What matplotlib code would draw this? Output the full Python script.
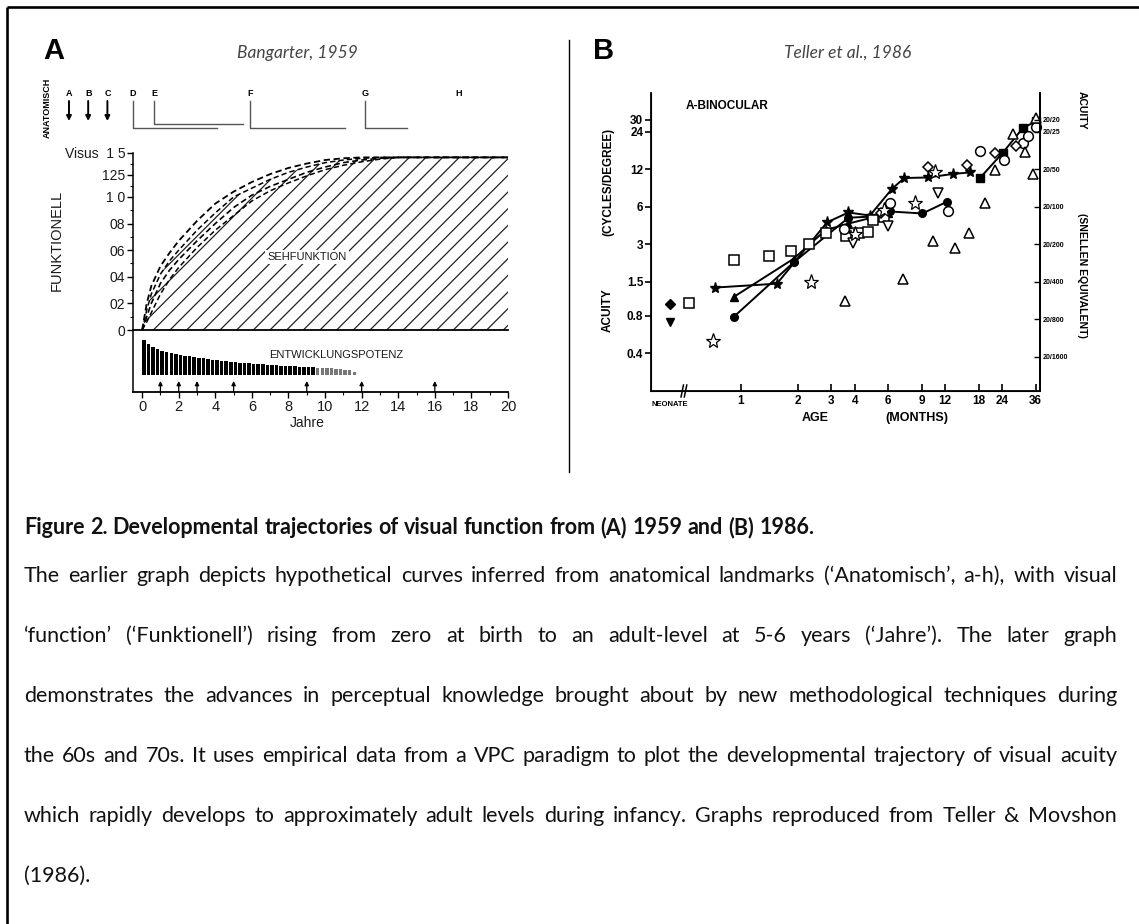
import numpy as np
import matplotlib
matplotlib.use("Agg")
import matplotlib.pyplot as plt
from matplotlib.transforms import blended_transform_factory

plt.rcParams['hatch.linewidth'] = 0.9

W, H = 1139, 924

# ---------------- panel A data (Bangarter, 1959) ----------------
curve_years = [0, 0.25, 0.5, 1, 1.5, 2, 3, 4, 5, 6, 7, 8, 9, 10, 11, 12, 13, 14, 16, 20]
curve_1 = [0, 0.20, 0.33, 0.48, 0.58, 0.67, 0.82, 0.95, 1.06, 1.17, 1.26, 1.33, 1.38, 1.42, 1.44, 1.45, 1.45, 1.45, 1.45, 1.45]
curve_2 = [0, 0.15, 0.27, 0.42, 0.52, 0.60, 0.75, 0.88, 1.00, 1.10, 1.20, 1.28, 1.34, 1.39, 1.42, 1.44, 1.45, 1.45, 1.45, 1.45]
curve_3 = [0, 0.10, 0.20, 0.35, 0.45, 0.53, 0.67, 0.80, 0.92, 1.02, 1.12, 1.20, 1.28, 1.34, 1.39, 1.42, 1.44, 1.45, 1.45, 1.45]
curve_4 = [0, 0.06, 0.13, 0.27, 0.38, 0.47, 0.62, 0.75, 0.86, 0.97, 1.07, 1.16, 1.24, 1.31, 1.36, 1.40, 1.43, 1.45, 1.45, 1.45]

visus_ticks = [0, 0.2, 0.4, 0.6, 0.8, 1.0, 1.25, 1.5]
visus_labels = ['0', '02', '04', '06', '08', '1 0', '125', 'Visus  1 5']

potenz_years = np.arange(0, 11.75, 0.25)
potenz = [35, 31, 28.5, 26, 24, 23, 22, 21, 20, 19.3, 18.6, 18, 17.3, 16.7, 16.1, 15.5,
          14.9, 14.4, 13.9, 13.4, 13, 12.5, 12.1, 11.7, 11.3, 11, 10.6, 10.3, 10, 9.7,
          9.5, 9.2, 9, 8.7, 8.5, 8.3, 8, 7.8, 7.5, 7.2, 7, 6.6, 6.2, 5.8, 5.3, 4.6, 3.5]
arrow_years = [1, 2, 3, 5, 9, 12, 16]

landmarks = ['A', 'B', 'C', 'D', 'E', 'F', 'G', 'H']
landmark_years = [-4.0, -2.95, -1.9, -0.5, 0.65, 5.9, 12.2, 17.3]
landmark_ends = [None, None, None, 4.1, 5.5, 11.1, 14.5, None]

# ---------------- panel B data (Teller et al., 1986) ----------------
star_line_x = [0.73, 1.55, 2.85, 3.7, 4.8, 6.3, 7.3, 9.7, 13.2, 16.2]
star_line_y = [1.35, 1.45, 4.5, 5.4, 5.1, 8.4, 10.2, 10.3, 11.0, 11.3]
circ_line_x = [0.92, 1.9, 3.7, 4.8, 6.1, 9.1, 12.3]
circ_line_y = [0.79, 2.15, 4.9, 5.0, 5.5, 5.3, 6.6]
tri_line_x = [0.92, 1.9, 2.8, 3.7, 6.0]
tri_line_y = [1.14, 2.3, 3.9, 4.4, 5.3]
sq_line_x = [18.3, 24.2, 30.8, 36]
sq_line_y = [10.2, 16.3, 25.6, 29]

neo_x = 0.42
neo_diamond = 1.0
neo_tri = 0.72

open_sq_x = [0.53, 0.92, 1.4, 1.84, 2.3, 2.8, 3.6, 4.2, 4.7, 5.0, 5.7]
open_sq_y = [1.02, 2.25, 2.4, 2.65, 3.0, 3.7, 3.5, 3.7, 3.8, 4.7, 5.0]
open_star_x = [0.71, 2.35, 4.0, 5.7, 8.3, 10.6]
open_star_y = [0.5, 1.5, 3.6, 5.6, 6.4, 11.3]
open_circ_x = [3.5, 6.1, 12.4, 18.3, 24.6, 31, 33, 36]
open_circ_y = [4.0, 6.4, 5.5, 16.7, 14.1, 19.4, 22, 26]
open_dia_x = [5.5, 9.7, 15.6, 22, 28.5]
open_dia_y = [5.3, 12.5, 12.9, 16.3, 18.4]
open_up_x = [3.55, 7.2, 10.3, 13.5, 16, 19.5, 22, 27.3, 31.8, 36, 35]
open_up_y = [1.06, 1.59, 3.2, 2.8, 3.7, 6.4, 11.8, 22.9, 16.6, 31, 11]
open_dn_x = [3.9, 6.0, 11]
open_dn_y = [3.1, 4.2, 7.8]

age_ticks = [1, 2, 3, 4, 6, 9, 12, 18, 24, 36]
cpd_ticks = [0.4, 0.8, 1.5, 3, 6, 12, 24, 30]
cpd_labels = ['0.4', '0.8', '1.5', '3', '6', '12', '24', '30']
snellen_ticks = [30, 24, 12, 6, 3, 1.5, 0.75, 0.375]
snellen_labels = ['20/20', '20/25', '20/50', '20/100', '20/200', '20/400', '20/800', '20/1600']

caption_title = "Figure 2. Developmental trajectories of visual function from (A) 1959 and (B) 1986."
caption_lines = [
    "The earlier graph depicts hypothetical curves inferred from anatomical landmarks (\u2018Anatomisch\u2019, a-h), with visual",
    "\u2018function\u2019 (\u2018Funktionell\u2019) rising from zero at birth to an adult-level at 5-6 years (\u2018Jahre\u2019). The later graph",
    "demonstrates the advances in perceptual knowledge brought about by new methodological techniques during",
    "the 60s and 70s. It uses empirical data from a VPC paradigm to plot the developmental trajectory of visual acuity",
    "which rapidly develops to approximately adult levels during infancy. Graphs reproduced from Teller & Movshon",
    "(1986).",
]

# ---------------------------------------------------------------
fig = plt.figure(figsize=(W / 100, H / 100), dpi=100)
fig.patch.set_facecolor('white')


def px_axes(x0, y0, x1, y1, **kw):
    return fig.add_axes([x0 / W, 1 - y1 / H, (x1 - x0) / W, (y1 - y0) / H], **kw)


ov = px_axes(0, 0, W, H)
ov.set_xlim(0, W)
ov.set_ylim(H, 0)
ov.axis('off')

sans = ['Liberation Sans', 'DejaVu Sans']
cap_font = ['Lato', 'Open Sans', 'DejaVu Sans']
ink = '#1a1a1a'

# frame + divider
ov.plot([7, W], [7, 7], color='k', lw=1.9, solid_capstyle='butt')
ov.plot([7, 7], [7, H], color='k', lw=1.9, solid_capstyle='butt')
ov.plot([569, 569], [40, 472], color='k', lw=1.0)

ov.text(43, 51, 'A', fontsize=21, fontweight='bold', family=sans, va='center')
ov.text(593, 51, 'B', fontsize=21, fontweight='bold', family=sans, va='center')
ov.text(297, 53, 'Bangarter, 1959', fontsize=12.5, style='italic', family=cap_font,
        color='#444444', ha='center', va='center')
ov.text(848, 53, 'Teller et al., 1986', fontsize=12.5, style='italic', family=cap_font,
        color='#444444', ha='center', va='center')

# ---------------- panel A ----------------
def fwd(v):
    v = np.asarray(v, dtype=float)
    return np.where(v <= 1, v, 1 + (v - 1) * 0.66)


def inv(u):
    u = np.asarray(u, dtype=float)
    return np.where(u <= 1, u, 1 + (u - 1) / 0.66)


ax_a = px_axes(133, 153, 508, 330)
ax_a.set_yscale('function', functions=(fwd, inv))
ax_a.set_xlim(-0.5, 20)
ax_a.set_ylim(0, 1.5)
for s in ['top', 'right']:
    ax_a.spines[s].set_visible(False)
ax_a.spines['left'].set_linewidth(1.1)
ax_a.spines['bottom'].set_linewidth(1.3)
ax_a.set_xticks([])
ax_a.set_yticks(visus_ticks, visus_labels)
ax_a.set_yticks([0.1, 0.3, 0.5, 0.7, 0.9, 1.125, 1.375], minor=True)
ax_a.tick_params(axis='y', which='major', length=4, width=1, pad=1.5, labelsize=10, labelcolor=ink)
ax_a.tick_params(axis='y', which='minor', length=2.5, width=0.8)
for lab in ax_a.get_yticklabels():
    lab.set_family(sans)
ax_a.patch.set_alpha(0)

ax_a.fill_between(curve_years, 0, curve_2, facecolor='none', edgecolor='#222222',
                  hatch='//', linewidth=0)
for c, lw in zip([curve_1, curve_2, curve_3, curve_4], [1.3, 1.1, 1.2, 1.1]):
    ax_a.plot(curve_years, c, color='k', lw=lw, ls=(0, (3.5, 2)), clip_on=False)
ax_a.text(9.0, 0.55, 'SEHFUNKTION', fontsize=8, family=sans, ha='center', va='center',
          color=ink, bbox=dict(facecolor='white', edgecolor='none', pad=1.5))
ov.text(57, 240, 'FUNKTIONELL', rotation=90, fontsize=10.5, family=sans, color=ink,
        ha='center', va='center')

# lower strip (Entwicklungspotenz)
ax_s = px_axes(133, 330, 508, 392)
ax_s.set_xlim(-0.5, 20)
ax_s.set_ylim(-17, 45)
for s in ['top', 'right']:
    ax_s.spines[s].set_visible(False)
ax_s.spines['left'].set_linewidth(1.1)
ax_s.spines['bottom'].set_linewidth(1.3)
ax_s.set_yticks([])
ax_s.set_xticks(range(0, 21, 2))
ax_s.set_xticks(range(1, 20, 2), minor=True)
ax_s.tick_params(axis='x', which='major', length=4, width=1, labelsize=10.5, labelcolor=ink, pad=2)
ax_s.tick_params(axis='x', which='minor', length=2.5, width=0.8)
for lab in ax_s.get_xticklabels():
    lab.set_family(sans)
ax_s.patch.set_alpha(0)
cols = ['k' if yr < 9.5 else '#777777' for yr in potenz_years]
ax_s.bar(potenz_years, potenz, width=0.19, color=cols, align='edge')
for yr in arrow_years:
    ax_s.annotate('', xy=(yr, -6), xytext=(yr, -17),
                  arrowprops=dict(arrowstyle='-|>', lw=0.9, color='k', mutation_scale=6,
                                  shrinkA=0, shrinkB=0), annotation_clip=False)
ax_s.text(10.6, 20, 'ENTWICKLUNGSPOTENZ', fontsize=8, family=sans, ha='center', va='center', color=ink)
ov.text(307, 423, 'Jahre', fontsize=10, family=sans, ha='center', va='center', color=ink)

# anatomical landmarks on top
tr = blended_transform_factory(ax_a.transData, ov.transData)
for name, yr, end in zip(landmarks, landmark_years, landmark_ends):
    ov.text(yr, 94, name, transform=tr, fontsize=6.5, fontweight='bold', family=sans,
            ha='center', va='center')
    if name in 'ABC':
        ov.annotate('', xy=(yr, 121), xytext=(yr, 101), xycoords=tr, textcoords=tr,
                    arrowprops=dict(arrowstyle='-|>', lw=1.4, color='k', mutation_scale=7,
                                    shrinkA=0, shrinkB=0))
    elif end is not None:
        y_base = 124 if name == 'E' else 128
        ov.plot([yr, yr, end], [101, y_base, y_base], transform=tr, color='#555555', lw=1.0)
ov.text(47, 108, 'ANATOMISCH', rotation=90, fontsize=6.5, fontweight='bold', family=sans,
        ha='center', va='center')

# ---------------- panel B ----------------
ax_b = px_axes(651, 93, 1040, 391)
ax_b.set_xscale('log')
ax_b.set_yscale('log')
ax_b.set_xlim(0.335, 38)
ax_b.set_ylim(0.2, 49)
ax_b.spines['top'].set_visible(False)
for s in ['left', 'bottom', 'right']:
    ax_b.spines[s].set_linewidth(1.3)
ax_b.set_xticks(age_ticks, [str(a) for a in age_ticks])
ax_b.set_xticks([], minor=True)
ax_b.set_yticks(cpd_ticks, cpd_labels)
ax_b.set_yticks([], minor=True)
ax_b.tick_params(axis='x', direction='in', length=5, width=1.2, labelsize=8.5, pad=3)
ax_b.tick_params(axis='y', direction='out', length=4, width=1.2, labelsize=8.5, pad=1.5)
for lab in ax_b.get_xticklabels() + ax_b.get_yticklabels():
    lab.set_family(sans)
    lab.set_fontweight('bold')

ax_r = ax_b.twinx()
ax_r.set_yscale('log')
ax_r.set_ylim(0.2, 49)
ax_r.spines['top'].set_visible(False)
ax_r.spines['right'].set_linewidth(1.3)
ax_r.set_yticks(snellen_ticks, snellen_labels)
ax_r.set_yticks([], minor=True)
ax_r.tick_params(axis='y', direction='in', length=4, width=1.0, labelsize=5, pad=2)
for lab in ax_r.get_yticklabels():
    lab.set_family(sans)
    lab.set_fontweight('bold')

lk = dict(color='k', lw=1.4, clip_on=False)
ax_b.plot(star_line_x, star_line_y, marker='*', ms=8, **lk)
ax_b.plot(circ_line_x, circ_line_y, marker='o', ms=5.5, **lk)
ax_b.plot(tri_line_x, tri_line_y, marker='^', ms=5.5, **lk)
ax_b.plot(sq_line_x, sq_line_y, marker='s', ms=5.5, **lk)
ax_b.plot([neo_x], [neo_diamond], marker='D', ms=5, color='k', ls='none')
ax_b.plot([neo_x], [neo_tri], marker='v', ms=5.5, color='k', ls='none')

ok = dict(ls='none', mfc='white', mec='k', mew=1.1, clip_on=False)
ax_b.plot(open_sq_x, open_sq_y, marker='s', ms=7, **ok)
ax_b.plot(open_circ_x, open_circ_y, marker='o', ms=7, **ok)
ax_b.plot(open_dia_x, open_dia_y, marker='D', ms=5.5, **ok)
ax_b.plot(open_up_x, open_up_y, marker='^', ms=7, **ok)
ax_b.plot(open_dn_x, open_dn_y, marker='v', ms=7, **ok)
ax_b.plot(open_star_x, open_star_y, marker='*', ms=11, **dict(ok, mew=0.9))

# axis break and neonate label
tb = ax_b.get_xaxis_transform()
for xb in [0.49, 0.51]:
    ax_b.plot([xb * 0.985, xb * 1.015], [-0.02, 0.02], transform=tb, color='k', lw=1.1, clip_on=False)
ax_b.text(neo_x, -0.035, 'NEONATE', transform=tb, fontsize=5.5, fontweight='bold', family=sans,
          ha='center', va='top')
ax_b.text(0.09, 0.955, 'A-BINOCULAR', transform=ax_b.transAxes, fontsize=8.5, fontweight='bold',
          family=sans, va='center')

ov.text(815, 418, 'AGE', fontsize=9, fontweight='bold', family=sans, ha='center', va='center')
ov.text(917, 418, '(MONTHS)', fontsize=9, fontweight='bold', family=sans, ha='center', va='center')
ov.text(608, 310, 'ACUITY', rotation=90, fontsize=8.5, fontweight='bold', family=sans,
        ha='center', va='center')
ov.text(608, 182, '(CYCLES/DEGREE)', rotation=90, fontsize=8.5, fontweight='bold', family=sans,
        ha='center', va='center')
ov.text(1082, 110, 'ACUITY', rotation=-90, fontsize=7.5, fontweight='bold', family=sans,
        ha='center', va='center')
ov.text(1082, 275, '(SNELLEN EQUIVALENT)', rotation=-90, fontsize=7.5, fontweight='bold', family=sans,
        ha='center', va='center')

# ---------------- caption (justified) ----------------
renderer = fig.canvas.get_renderer()
x_left, x_right = 24, 1117


def width_of(s, size, weight='normal'):
    t = ov.text(0, 0, s, fontsize=size, fontweight=weight, family=cap_font)
    w = t.get_window_extent(renderer).width
    t.remove()
    return w


base = 14
cap_size = base * 1060 / width_of(caption_lines[0], base)


def put_line(line, y, size, weight='normal', justify=True):
    words = line.split(' ')
    texts = [ov.text(0, y, w_, fontsize=size, fontweight=weight, family=cap_font,
                     ha='left', va='center', color='#111111') for w_ in words]
    widths = [t.get_window_extent(renderer).width for t in texts]
    if justify and len(words) > 1:
        gap = (x_right - x_left - sum(widths)) / (len(words) - 1)
    else:
        gap = width_of('x x', size, weight) - width_of('xx', size, weight)
    x = x_left
    for t, w_ in zip(texts, widths):
        t.set_x(x)
        x += w_ + gap


put_line(caption_title, 528, cap_size, weight='bold', justify=False)
line_ys = [576, 636, 696, 756, 816, 876]
for i, (line, y) in enumerate(zip(caption_lines, line_ys)):
    put_line(line, y, cap_size, justify=(i < len(caption_lines) - 1))

fig.savefig('out.png', dpi=100)
